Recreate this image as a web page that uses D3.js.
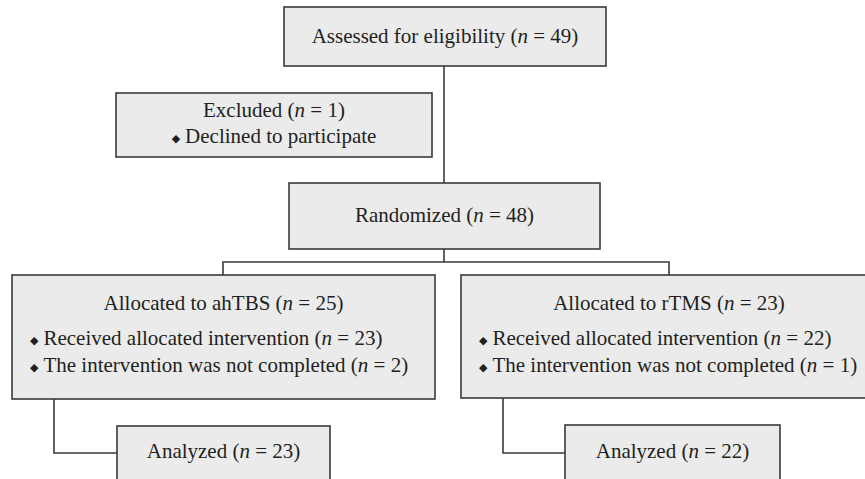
<!DOCTYPE html>
<html>
<head>
<meta charset="utf-8">
<script src="https://cdn.jsdelivr.net/npm/d3@7"></script>
<style>
  html, body { margin: 0; padding: 0; background: #fff; }
  svg { display: block; }
  text { font-family: "Liberation Serif", "DejaVu Serif", serif; fill: #231f20; }
</style>
</head>
<body>
<svg id="chart" width="865" height="479"></svg>
<script>
// ---- data ----
const stageLabels = ["Assessed for eligibility", "Excluded", "Randomized"];
const stageCounts = [49, 1, 48];
const excludedReasons = ["Declined to participate"];
const arms = ["ahTBS", "rTMS"];
const allocatedCounts = [25, 23];
const receivedCounts = [23, 22];
const notCompletedCounts = [2, 1];
const analyzedCounts = [23, 22];

// ---- layout (positions/styles) ----
const W = 865, H = 479;
const FILL = "#ebebeb", STROKE = "#3a3a3a", SW = 1.6, FS = 21;
const svg = d3.select("#chart");

const boxes = {
  assessed:  {x: 284, y: 7,   w: 322, h: 59},
  excluded:  {x: 116, y: 93,  w: 316, h: 64},
  random:    {x: 289, y: 183, w: 311, h: 66},
  arm0:      {x: 12,  y: 275, w: 423, h: 124},
  arm1:      {x: 461, y: 275, w: 416, h: 123},
  an0:       {x: 117, y: 426, w: 213, h: 70},
  an1:       {x: 565, y: 425, w: 215, h: 70}
};

// connectors
const lineGen = d3.line();
const connectors = [
  [[444, 66], [444, 183]],
  [[444, 249], [444, 262]],
  [[223, 275], [223, 262], [669, 262], [669, 275]],
  [[54, 399], [54, 453], [117, 453]],
  [[503, 398], [503, 453], [565, 453]]
];
svg.selectAll("path.conn").data(connectors).join("path")
  .attr("class", "conn")
  .attr("d", d => lineGen(d))
  .attr("fill", "none").attr("stroke", STROKE).attr("stroke-width", SW);

svg.selectAll("rect.box").data(Object.values(boxes)).join("rect")
  .attr("class", "box")
  .attr("x", d => d.x).attr("y", d => d.y)
  .attr("width", d => d.w).attr("height", d => d.h)
  .attr("fill", FILL).attr("stroke", STROKE).attr("stroke-width", SW);

function centered(x, y, label, n) {
  const t = svg.append("text").attr("x", x).attr("y", y)
    .attr("text-anchor", "middle").attr("font-size", FS);
  if (n === undefined) t.text(label);
  else {
    t.append("tspan").text(label + " (");
    t.append("tspan").attr("font-style", "italic").text("n");
    t.append("tspan").text(" = " + n + ")");
  }
  return t;
}
function bullet(x, y, label, n, anchor) {
  const t = svg.append("text").attr("font-size", FS).attr("y", y).attr("x", x);
  t.append("tspan").attr("font-size", 11).attr("dy", -1.5).text("◆");
  const rest = t.append("tspan").attr("dx", 5).attr("dy", 1.5);
  if (n === undefined) rest.text(label);
  else {
    rest.text(label + " (");
    t.append("tspan").attr("font-style", "italic").text("n");
    t.append("tspan").text(" = " + n + ")");
  }
  if (anchor === "middle") t.attr("text-anchor", "middle");
  return t;
}

const cx = b => b.x + b.w / 2;

centered(cx(boxes.assessed), 43, stageLabels[0], stageCounts[0]);
centered(cx(boxes.excluded), 117, stageLabels[1], stageCounts[1]);
bullet(cx(boxes.excluded), 143, excludedReasons[0], undefined, "middle");
centered(cx(boxes.random), 222, stageLabels[2], stageCounts[2]);

const armKeys = ["arm0", "arm1"];
const anKeys = ["an0", "an1"];
arms.forEach((a, i) => {
  const b = boxes[armKeys[i]];
  centered(cx(b), 310, "Allocated to " + a, allocatedCounts[i]);
  bullet(b.x + 18, 345, "Received allocated intervention", receivedCounts[i]);
  bullet(b.x + 18, 372, "The intervention was not completed", notCompletedCounts[i]);
  const ab = boxes[anKeys[i]];
  centered(cx(ab), 458, "Analyzed", analyzedCounts[i]);
});
</script>
</body>
</html>
